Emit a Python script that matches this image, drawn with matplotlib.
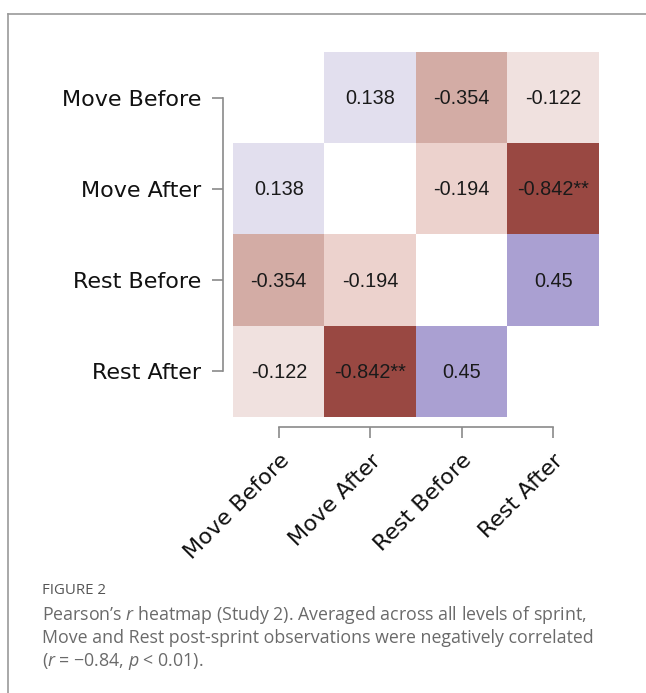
import numpy as np
import matplotlib
matplotlib.use("Agg")
import matplotlib.pyplot as plt
from matplotlib.colors import LinearSegmentedColormap, Normalize
from matplotlib.lines import Line2D

labels = ["Move Before", "Move After", "Rest Before", "Rest After"]
r_values = [
    [np.nan, 0.138, -0.354, -0.122],
    [0.138, np.nan, -0.194, -0.842],
    [-0.354, -0.194, np.nan, 0.45],
    [-0.122, -0.842, 0.45, np.nan],
]
cell_text = [
    ["", "0.138", "-0.354", "-0.122"],
    ["0.138", "", "-0.194", "-0.842**"],
    ["-0.354", "-0.194", "", "0.45"],
    ["-0.122", "-0.842**", "0.45", ""],
]

plt.rcParams["mathtext.fontset"] = "custom"
plt.rcParams["mathtext.rm"] = "Open Sans"
plt.rcParams["mathtext.it"] = "Open Sans:italic"

data = np.array(r_values, dtype=float)

cmap = LinearSegmentedColormap.from_list(
    "rb",
    [(0.0, "#853530"), (0.079, "#9a4943"), (0.323, "#d4ada6"), (0.403, "#ecd2cd"),
     (0.439, "#f0e1df"), (0.5, "#ffffff"), (0.569, "#e2dfee"), (0.725, "#aba1d3"),
     (1.0, "#5c4ea0")])
norm = Normalize(vmin=-1, vmax=1)

W, H = 646, 693
fig = plt.figure(figsize=(W / 100, H / 100), dpi=100)

ax = fig.add_axes([233 / W, 1 - 417 / H, 366 / W, 365 / H])
masked = np.ma.masked_invalid(data)
ax.imshow(masked, cmap=cmap, norm=norm, aspect="auto",
          extent=(-0.5, 3.5, 3.5, -0.5), interpolation="nearest")
ax.set_xlim(-0.5, 3.5)
ax.set_ylim(3.5, -0.5)

for i in range(4):
    for j in range(4):
        if cell_text[i][j]:
            ax.text(j, i + 0.01, cell_text[i][j], ha="center", va="center",
                    fontsize=14.3, family="Liberation Sans", color="#1a1a1a")

spine_col = "#8a8a8a"
for s in ["top", "right"]:
    ax.spines[s].set_visible(False)
for s in ["left", "bottom"]:
    ax.spines[s].set_position(("outward", 7))
    ax.spines[s].set_bounds(0, 3)
    ax.spines[s].set_color(spine_col)
    ax.spines[s].set_linewidth(1.2)

ax.set_xticks(range(4))
ax.set_yticks(range(4))
ax.set_yticklabels(labels, fontsize=16, family="DejaVu Sans", color="#111111")
ax.set_xticklabels(labels, fontsize=16, family="DejaVu Sans", color="#111111",
                   rotation=45, ha="right", va="top", rotation_mode="anchor")
ax.tick_params(axis="both", length=8, width=1.2, color=spine_col)
ax.tick_params(axis="y", pad=8)
ax.tick_params(axis="x", pad=9)

# frame lines
ytop = 1 - 14 / H
xl = 8 / W
fig.add_artist(Line2D([xl, 1], [ytop, ytop], transform=fig.transFigure,
                      color="#9a9a9a", lw=1.2))
fig.add_artist(Line2D([xl, xl], [0, ytop], transform=fig.transFigure,
                      color="#9a9a9a", lw=1.2))

# caption
cx = 42 / W
fig.text(cx, 1 - 591 / H, "FIGURE 2", fontsize=10.8, family="Open Sans",
         color="#555555", va="center")
cap_col = "#6a6a6a"
fs = 12.8
fig.text(cx, 1 - 615 / H,
         "Pearson\u2019s $r$ heatmap (Study 2). Averaged across all levels of sprint,",
         fontsize=fs, family="Open Sans", color=cap_col, va="center")
fig.text(cx, 1 - 638 / H,
         "Move and Rest post-sprint observations were negatively correlated",
         fontsize=fs, family="Open Sans", color=cap_col, va="center")
fig.text(cx, 1 - 661 / H,
         "($r$ = \u22120.84, $p$ < 0.01).",
         fontsize=fs, family="Open Sans", color=cap_col, va="center")

fig.savefig("out.png", dpi=100)
